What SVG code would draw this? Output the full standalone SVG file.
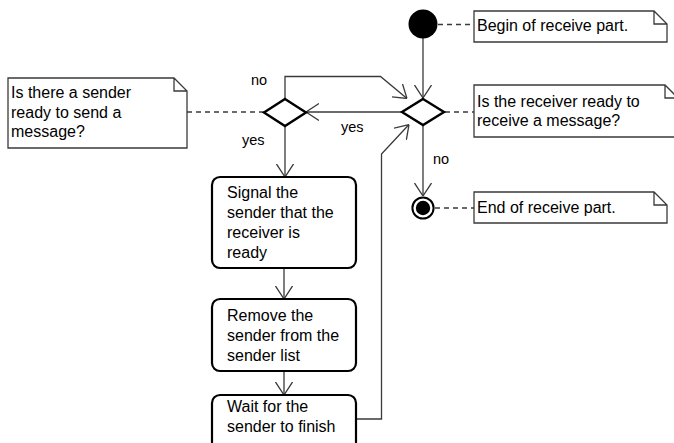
<svg xmlns="http://www.w3.org/2000/svg" width="674" height="443" viewBox="0 0 674 443">
  <defs>
    <style>
      text { font-family: "Liberation Sans", Arial, sans-serif; font-size: 16px; fill: #000; }
      .lbl { font-size: 14.5px; }
      .edge { fill: none; stroke: #3a3a3a; stroke-width: 1.3; }
      .dash { fill: none; stroke: #3a3a3a; stroke-width: 1.3; stroke-dasharray: 5 4; }
      .note { fill: #fff; stroke: #3a3a3a; stroke-width: 1.3; }
      .action { fill: #fff; stroke: #000; stroke-width: 2.2; }
      .decision { fill: #fff; stroke: #000; stroke-width: 2.4; }
    </style>
    <!-- open V arrowhead used by all control-flow edges -->
    <marker id="open" viewBox="0 0 13 18" refX="13" refY="9" markerWidth="13" markerHeight="18" orient="auto" markerUnits="userSpaceOnUse">
      <path d="M0,0.5 L13,9 L0,17.5" fill="none" stroke="#3a3a3a" stroke-width="1.3"/>
    </marker>
  </defs>

  <!-- connectors -->
  <g id="connectors">
    <line class="edge" x1="423" y1="38" x2="423" y2="98" marker-end="url(#open)"/>
    <path class="edge" d="M285,99 V76.5 H380.5 L407,98.5" marker-end="url(#open)"/>
    <line class="edge" x1="402" y1="112" x2="306" y2="112" marker-end="url(#open)"/>
    <line class="edge" x1="285" y1="126" x2="285" y2="177" marker-end="url(#open)"/>
    <line class="edge" x1="284" y1="268" x2="284" y2="299" marker-end="url(#open)"/>
    <line class="edge" x1="284" y1="371" x2="284" y2="395" marker-end="url(#open)"/>
    <path class="edge" d="M356,419 H381.5 V154 L409,124.5" marker-end="url(#open)"/>
    <line class="edge" x1="423" y1="125" x2="423" y2="196" marker-end="url(#open)"/>
    <line class="dash" x1="438" y1="24.5" x2="474" y2="24.5"/>
    <line class="dash" x1="445" y1="112" x2="474" y2="112"/>
    <line class="dash" x1="435" y1="208" x2="474" y2="208"/>
    <line class="dash" x1="187" y1="112" x2="265" y2="112"/>
    <text class="lbl" x="251" y="85">no</text>
    <text class="lbl" x="242" y="145">yes</text>
    <text class="lbl" x="341" y="132">yes</text>
    <text class="lbl" x="433" y="164">no</text>
  </g>

  <!-- start / end -->
  <g id="start">
    <circle cx="423" cy="24" r="14.5" fill="#000"/>
  </g>
  <g id="end">
    <circle cx="423" cy="208" r="10.6" fill="#fff" stroke="#000" stroke-width="2"/>
    <circle cx="423" cy="208" r="7.2" fill="#000"/>
  </g>

  <!-- decisions -->
  <g id="receiver-ready">
    <polygon class="decision" points="423,99 444,112 423,125 402,112"/>
  </g>
  <g id="sender-ready">
    <polygon class="decision" points="285,99 306,112.5 285,126 264,112.5"/>
  </g>

  <!-- actions -->
  <g id="signal-sender">
    <rect class="action" x="212" y="177" width="144" height="91" rx="8"/>
    <text x="227" y="198">Signal the</text>
    <text x="227" y="218">sender that the</text>
    <text x="227" y="238">receiver is</text>
    <text x="227" y="257.5">ready</text>
  </g>
  <g id="remove-sender">
    <rect class="action" x="212" y="299" width="144" height="72" rx="8"/>
    <text x="227" y="321">Remove the</text>
    <text x="227" y="341">sender from the</text>
    <text x="227" y="361">sender list</text>
  </g>
  <g id="wait-sender">
    <rect class="action" x="212" y="395" width="144" height="58" rx="8"/>
    <text x="227" y="411.5">Wait for the</text>
    <text x="227" y="431.5">sender to finish</text>
  </g>

  <!-- notes -->
  <g id="note-begin">
    <path class="note" d="M474,11 H654 L667,24 V42 H474 Z M654,11 V24 H667"/>
    <text x="477" y="30.5">Begin of receive part.</text>
  </g>
  <g id="note-receiver">
    <path class="note" d="M474,85 H665 L678,98 V137 H474 Z M665,85 V98 H678"/>
    <text x="477" y="106.5">Is the receiver ready to</text>
    <text x="477" y="126">receive a message?</text>
  </g>
  <g id="note-end">
    <path class="note" d="M474,192 H654 L667,205 V223 H474 Z M654,192 V205 H667"/>
    <text x="477" y="213">End of receive part.</text>
  </g>
  <g id="note-sender">
    <path class="note" d="M8,78 H174 L187,91 V148 H8 Z M174,78 V91 H187"/>
    <text x="11" y="98">Is there a sender</text>
    <text x="11" y="117.5">ready to send a</text>
    <text x="11" y="137">message?</text>
  </g>
</svg>
